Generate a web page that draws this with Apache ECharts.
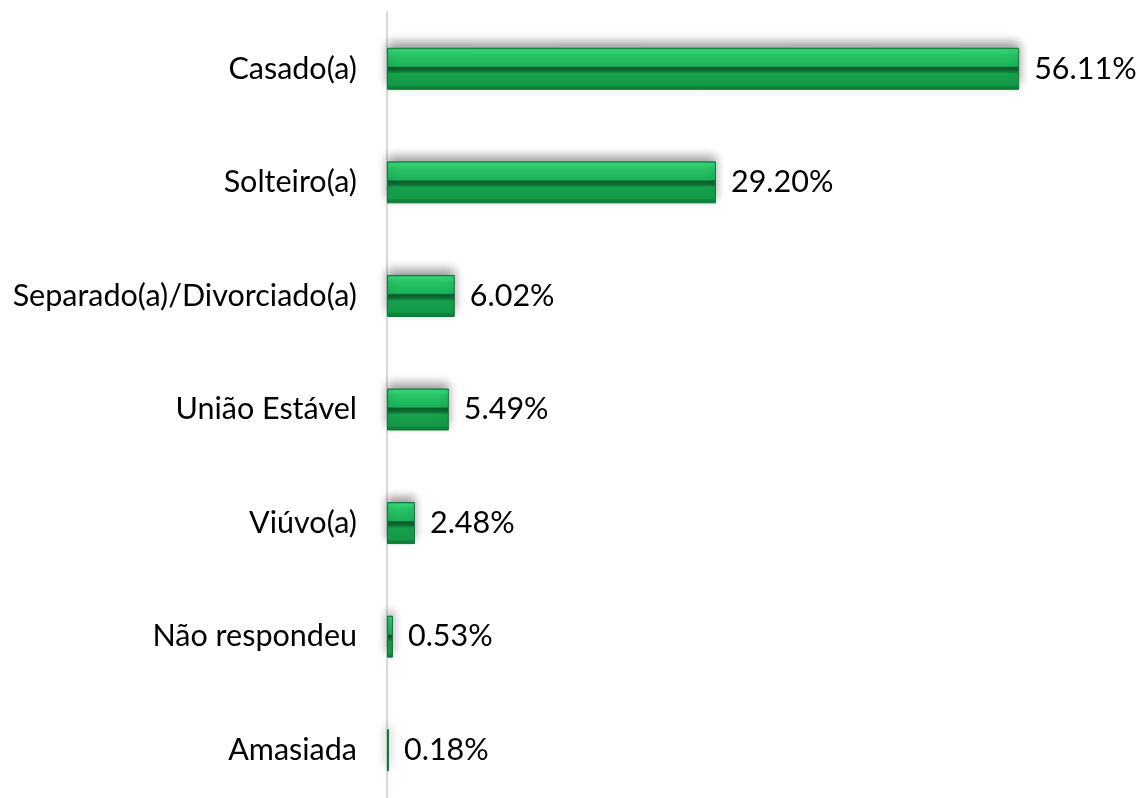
<!DOCTYPE html>
<html>
<head>
<meta charset="utf-8">
<script src="https://cdn.jsdelivr.net/npm/echarts@6/dist/echarts.min.js"></script>
<style>
  html, body { margin: 0; padding: 0; background: #fff; overflow: hidden; }
  #chart { width: 1137px; height: 820px; }
</style>
</head>
<body>
<div id="chart"></div>
<script>
var categories = ['Casado(a)', 'Solteiro(a)', 'Separado(a)/Divorciado(a)', 'União Estável', 'Viúvo(a)', 'Não respondeu', 'Amasiada'];
var values = [56.11, 29.20, 6.02, 5.49, 2.48, 0.53, 0.18];

var chart = echarts.init(document.getElementById('chart'));

// bevelled green fill, roughly like the office preset
var barFill = new echarts.graphic.LinearGradient(0, 0, 0, 1, [
    { offset: 0, color: '#138c43' },
    { offset: 0.05, color: '#36d578' },
    { offset: 0.18, color: '#27c264' },
    { offset: 0.44, color: '#1bb259' },
    { offset: 0.47, color: '#0b5a2a' },
    { offset: 0.55, color: '#0e6f35' },
    { offset: 0.62, color: '#18a24d' },
    { offset: 0.88, color: '#15a14b' },
    { offset: 0.93, color: '#0f8a3e' },
    { offset: 1, color: '#0c7a36' }
]);

// the plot runs a little past the bottom of the window, as in the original
var option = {
    animation: false,
    grid: {
        left: 387,
        right: 74,
        top: 12,
        bottom: 13,
        containLabel: false
    },
    xAxis: {
        type: 'value',
        min: 0,
        max: 60,
        show: false
    },
    yAxis: {
        type: 'category',
        inverse: true,
        data: categories,
        axisLine: { show: true, lineStyle: { color: '#d9d9d9', width: 2 } },
        axisTick: { show: false },
        axisLabel: {
            margin: 30,
            fontFamily: 'Lato',
            fontSize: 30.5,
            color: '#000'
        }
    },
    series: [{
        type: 'bar',
        data: values,
        barWidth: '37%',
        itemStyle: {
            color: barFill,
            borderColor: '#0e7a3a',
            borderWidth: 1,
            shadowColor: 'rgba(0,0,0,0.4)',
            shadowBlur: 10,
            shadowOffsetY: -5
        },
        label: {
            show: true,
            position: 'right',
            distance: 15,
            fontFamily: 'Lato',
            fontSize: 30.5,
            color: '#000',
            formatter: function (p) { return p.value.toFixed(2) + '%'; }
        }
    }]
};

chart.setOption(option);
</script>
</body>
</html>
